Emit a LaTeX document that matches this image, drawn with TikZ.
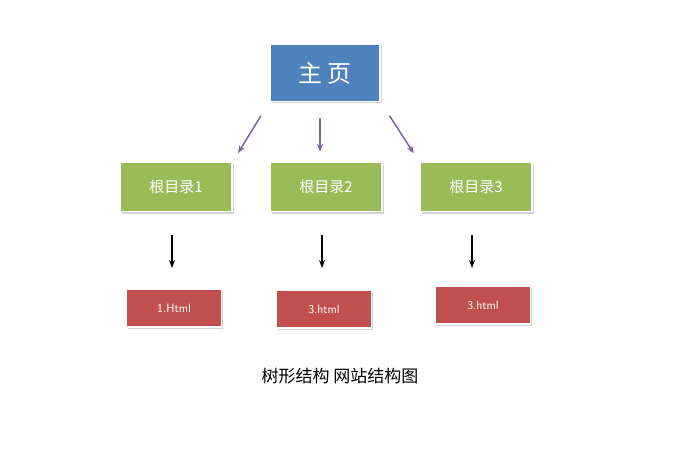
\documentclass[tikz,border=0pt]{standalone}
\usepackage{fontspec}
\newfontfamily\cjk{Noto Sans CJK SC}
\usetikzlibrary{shadows,arrows.meta}
\definecolor{bl}{HTML}{4F81BD}
\definecolor{gr}{HTML}{9BBB59}
\definecolor{rd}{HTML}{C0504D}
\definecolor{pu}{HTML}{8064A2}
\begin{document}
\begin{tikzpicture}[x=1pt,y=-1pt,
 box/.style={draw=white,line width=1.5pt,drop shadow={shadow xshift=1.5pt,shadow yshift=-2pt,opacity=.35},text=white,inner sep=0pt},
 top/.style={box,fill=bl,minimum width=110pt,minimum height=57pt,font=\cjk\fontsize{24}{24}\selectfont},
 mid/.style={box,fill=gr,minimum width=112pt,minimum height=49pt,font=\cjk\fontsize{15}{15}\selectfont},
 leaf/.style={box,fill=rd,minimum width=95pt,minimum height=38pt,font=\sffamily\fontsize{12}{12}\selectfont},
 parr/.style={-{Stealth[length=8pt,width=6pt]},pu,line width=1.5pt,shorten <=16pt,shorten >=10pt},
 barr/.style={-{Stealth[length=8pt,width=6pt]},black,line width=1.3pt}]
\useasboundingbox[fill=white] (0,0) rectangle (700,470);
\node[top] (home) at (325,73) {主 页};
\node[mid] (r1) at (176,187) {根目录1};
\node[mid] (r2) at (326,187) {根目录2};
\node[mid] (r3) at (476,187) {根目录3};
\node[leaf] (l1) at (174,308) {1.Html};
\node[leaf] (l2) at (324,309) {3.html};
\node[leaf] (l3) at (483,305) {3.html};
\draw[parr] (home.south west) -- (r1.north east);
\draw[parr] (home.south) ++(-5,0) coordinate (h2) (h2) -- (h2|-r2.north);
\draw[parr] (home.south east) -- (r3.north west);
\coordinate (a1) at (172,235); \coordinate (b1) at (172,268);
\coordinate (a2) at (322,235); \coordinate (b2) at (322,268);
\coordinate (a3) at (472,235); \coordinate (b3) at (472,268);
\draw[barr] (a1) -- (b1);
\draw[barr] (a2) -- (b2);
\draw[barr] (a3) -- (b3);
\node[font=\cjk\fontsize{17}{17}\selectfont] (cap) at (340,376) {树形结构 网站结构图};
\end{tikzpicture}
\end{document}
